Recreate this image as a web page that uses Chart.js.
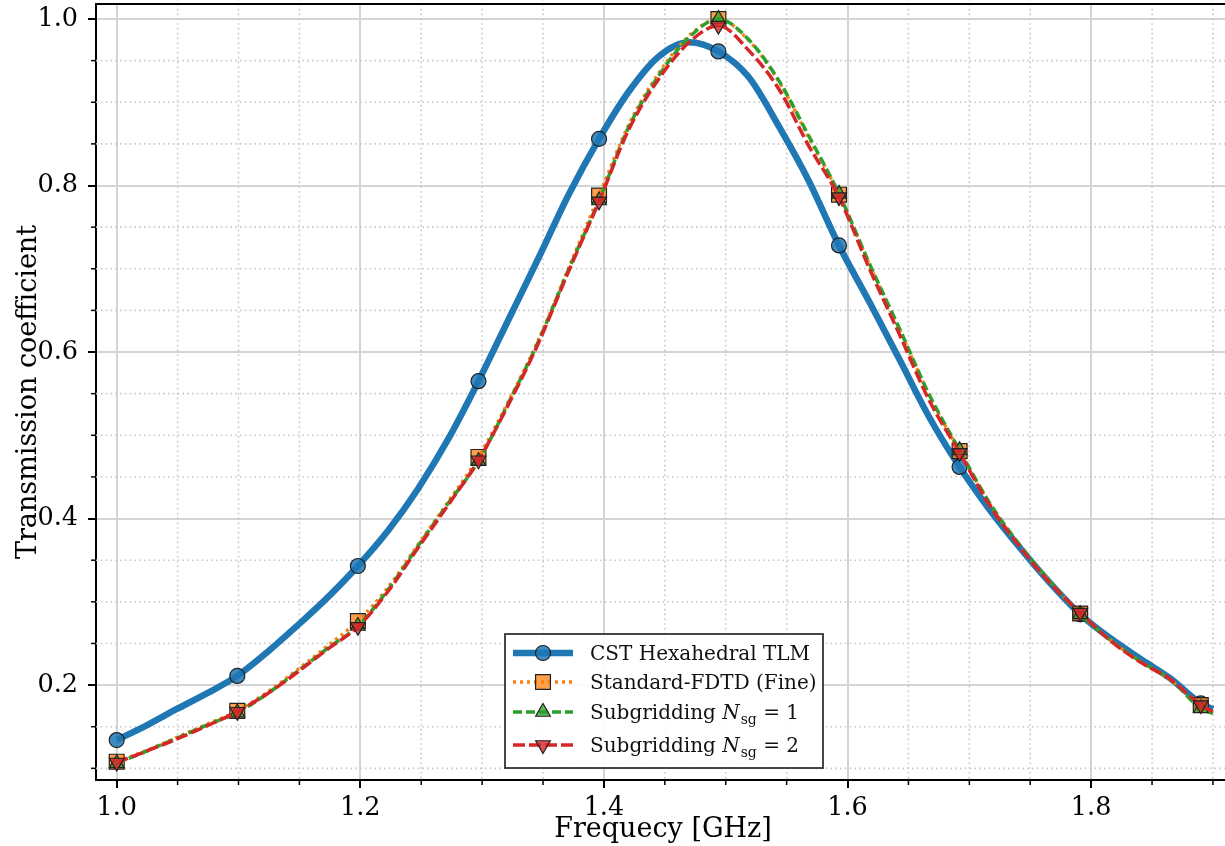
<!DOCTYPE html>
<html>
<head>
<meta charset="utf-8">
<title>Transmission coefficient</title>
<script src="https://cdn.jsdelivr.net/npm/chart.js@4.4.1/dist/chart.umd.min.js"></script>
<style>
  html, body { margin: 0; padding: 0; background: #fff; overflow: hidden; }
  canvas { display: block; }
</style>
</head>
<body>
<canvas id="grafica" width="1230" height="846"></canvas>
<script>
// frecuencias en GHz
const freq = [1.000, 1.025, 1.049, 1.074, 1.099, 1.124, 1.148, 1.173, 1.198, 1.223,
              1.247, 1.272, 1.297, 1.322, 1.346, 1.371, 1.396, 1.420, 1.445, 1.470,
              1.494, 1.519, 1.544, 1.568, 1.593, 1.618, 1.643, 1.667, 1.692, 1.717,
              1.742, 1.766, 1.791, 1.816, 1.840, 1.865, 1.890, 1.900];

const cst = [0.134, 0.152, 0.171, 0.190, 0.211, 0.240, 0.271, 0.305, 0.343, 0.386,
             0.435, 0.495, 0.565, 0.640, 0.712, 0.789, 0.856, 0.912, 0.955, 0.972,
             0.961, 0.930, 0.870, 0.806, 0.728, 0.660, 0.590, 0.522, 0.462, 0.410,
             0.364, 0.323, 0.285, 0.256, 0.232, 0.208, 0.178, 0.171];

const fdtdFine = [0.108, 0.122, 0.137, 0.153, 0.169, 0.192, 0.218, 0.247, 0.277, 0.318,
                  0.368, 0.420, 0.474, 0.542, 0.614, 0.701, 0.788, 0.872, 0.935, 0.980,
                  1.000, 0.974, 0.924, 0.858, 0.789, 0.705, 0.626, 0.548, 0.481, 0.417,
                  0.366, 0.324, 0.286, 0.254, 0.228, 0.206, 0.176, 0.167];

const subgrid1 = [0.106, 0.121, 0.136, 0.152, 0.167, 0.190, 0.216, 0.244, 0.271, 0.315,
                  0.366, 0.418, 0.469, 0.540, 0.612, 0.699, 0.782, 0.869, 0.932, 0.978,
                  1.000, 0.975, 0.925, 0.860, 0.790, 0.706, 0.627, 0.549, 0.482, 0.418,
                  0.367, 0.325, 0.285, 0.254, 0.229, 0.207, 0.172, 0.166];

const subgrid2 = [0.107, 0.121, 0.135, 0.151, 0.168, 0.190, 0.215, 0.243, 0.270, 0.313,
                  0.364, 0.416, 0.470, 0.538, 0.610, 0.697, 0.781, 0.866, 0.928, 0.972,
                  0.992, 0.962, 0.915, 0.848, 0.786, 0.700, 0.620, 0.542, 0.479, 0.415,
                  0.365, 0.323, 0.287, 0.253, 0.228, 0.207, 0.176, 0.168];

const seriesNames = ['CST Hexahedral TLM', 'Standard-FDTD (Fine)', 'Subgridding N_sg = 1', 'Subgridding N_sg = 2'];

const xMajor = [1.0, 1.2, 1.4, 1.6, 1.8];
const xMinor = [1.05, 1.1, 1.15, 1.25, 1.3, 1.35, 1.45, 1.5, 1.55, 1.65, 1.7, 1.75, 1.85, 1.9];
const yMajor = [0.2, 0.4, 0.6, 0.8, 1.0];
const yMinor = [0.1, 0.15, 0.25, 0.3, 0.35, 0.45, 0.5, 0.55, 0.65, 0.7, 0.75, 0.85, 0.9, 0.95];

const serif = '"DejaVu Serif", "Liberation Serif", serif';
const fuenteTicks = { family: serif, size: 25.5 };
const fuenteTitulo = { family: serif, size: 27 };

// un marcador cada 4 muestras (como markevery)
function marcador(r) {
  return ctx => (ctx.dataIndex % 4 === 0 && ctx.dataIndex < 37) ? r : 0;
}

function aPuntos(serie) {
  return freq.map((f, i) => ({ x: f, y: serie[i] }));
}

const estilos = [
  { color: '#1f77b4', relleno: 'rgba(31,119,180,0.85)', ancho: 6.5, dash: [], forma: 'circle', r: 7.5, rot: 0 },
  { color: '#ff7f0e', relleno: 'rgba(255,127,14,0.75)', ancho: 3.3, dash: [3, 4], forma: 'rect', r: 10.5, rot: 0 },
  { color: '#2ca02c', relleno: 'rgba(44,160,44,0.75)', ancho: 3.5, dash: [9, 4], forma: 'triangle', r: 8.5, rot: 0 },
  { color: '#d62728', relleno: 'rgba(214,39,40,0.8)', ancho: 3.5, dash: [12, 4], forma: 'triangle', r: 8.5, rot: 180 }
];

const series = [cst, fdtdFine, subgrid1, subgrid2];

// rejilla menor punteada y marcas menores
const rejillaMenor = {
  id: 'rejillaMenor',
  beforeDatasetsDraw(chart) {
    const { ctx, chartArea: a, scales: { x, y } } = chart;
    ctx.save();
    ctx.strokeStyle = '#c9c9c9';
    ctx.lineWidth = 1.6;
    ctx.setLineDash([1.6, 3.2]);
    xMinor.forEach(v => {
      const px = x.getPixelForValue(v);
      ctx.beginPath(); ctx.moveTo(px, a.top); ctx.lineTo(px, a.bottom); ctx.stroke();
    });
    yMinor.forEach(v => {
      const py = y.getPixelForValue(v);
      ctx.beginPath(); ctx.moveTo(a.left, py); ctx.lineTo(a.right, py); ctx.stroke();
    });
    ctx.setLineDash([]);
    ctx.strokeStyle = '#000';
    ctx.lineWidth = 1.5;
    xMinor.forEach(v => {
      const px = x.getPixelForValue(v);
      ctx.beginPath(); ctx.moveTo(px, a.bottom); ctx.lineTo(px, a.bottom + 5); ctx.stroke();
    });
    yMinor.forEach(v => {
      const py = y.getPixelForValue(v);
      ctx.beginPath(); ctx.moveTo(a.left - 5, py); ctx.lineTo(a.left, py); ctx.stroke();
    });
    ctx.restore();
  }
};

function dibujarMarcador(ctx, e, cx, cy) {
  ctx.save();
  ctx.fillStyle = e.relleno;
  ctx.strokeStyle = '#222';
  ctx.lineWidth = 1.2;
  ctx.beginPath();
  if (e.forma === 'circle') {
    ctx.arc(cx, cy, e.r, 0, Math.PI * 2);
  } else if (e.forma === 'rect') {
    const s = e.r * Math.SQRT1_2;
    ctx.rect(cx - s, cy - s, 2 * s, 2 * s);
  } else {
    const sgn = e.rot ? -1 : 1;
    for (let k = 0; k < 3; k++) {
      const ang = k * 2 * Math.PI / 3;
      const px = cx + Math.sin(ang) * e.r;
      const py = cy - sgn * Math.cos(ang) * e.r;
      if (k === 0) ctx.moveTo(px, py); else ctx.lineTo(px, py);
    }
    ctx.closePath();
  }
  ctx.fill();
  ctx.stroke();
  ctx.restore();
}

function escribir(ctx, txt, x, y) {
  const partes = txt.split('N_sg');
  ctx.font = '20px ' + serif;
  ctx.fillText(partes[0], x, y);
  x += ctx.measureText(partes[0]).width;
  if (partes.length > 1) {
    ctx.font = 'italic 20px ' + serif;
    ctx.fillText('N', x, y);
    x += ctx.measureText('N').width + 1;
    ctx.font = '14px ' + serif;
    ctx.fillText('sg', x, y + 5);
    x += ctx.measureText('sg').width;
    ctx.font = '20px ' + serif;
    ctx.fillText(partes[1], x, y);
  }
}

// marco superior y leyenda
const marcoYLeyenda = {
  id: 'marcoYLeyenda',
  afterDraw(chart) {
    const { ctx, chartArea: a } = chart;
    ctx.save();
    ctx.strokeStyle = '#000';
    ctx.lineWidth = 2;
    ctx.beginPath(); ctx.moveTo(a.left, a.top); ctx.lineTo(a.right, a.top); ctx.stroke();

    const bx = a.left + 409, by = a.top + 630, bw = 318, bh = 134;
    ctx.fillStyle = 'rgba(255,255,255,0.9)';
    ctx.fillRect(bx, by, bw, bh);
    ctx.strokeStyle = '#333';
    ctx.lineWidth = 1.8;
    ctx.strokeRect(bx, by, bw, bh);

    const baselines = [26, 55, 85, 118];
    estilos.forEach((e, i) => {
      const yb = by + baselines[i];
      const yl = yb - 7;
      ctx.save();
      ctx.strokeStyle = e.color;
      ctx.lineWidth = e.ancho;
      ctx.setLineDash(e.dash);
      ctx.beginPath(); ctx.moveTo(bx + 8, yl); ctx.lineTo(bx + 68, yl); ctx.stroke();
      ctx.restore();
      dibujarMarcador(ctx, e, bx + 38, yl);
      ctx.fillStyle = '#111';
      ctx.textBaseline = 'alphabetic';
      ctx.textAlign = 'left';
      escribir(ctx, seriesNames[i], bx + 85, yb);
    });
    ctx.restore();
  }
};

const datasets = series.map((s, i) => {
  const e = estilos[i];
  return {
    label: seriesNames[i],
    data: aPuntos(s),
    borderColor: e.color,
    borderWidth: e.ancho,
    borderDash: e.dash,
    fill: false,
    pointStyle: e.forma,
    pointRotation: e.rot,
    pointRadius: marcador(e.r),
    pointHoverRadius: 0,
    pointBackgroundColor: e.relleno,
    pointBorderColor: '#222',
    pointBorderWidth: 1.2,
    order: 4 - i
  };
});

new Chart(document.getElementById('grafica'), {
  type: 'line',
  data: { datasets: datasets },
  options: {
    responsive: false,
    animation: false,
    events: [],
    layout: { autoPadding: false, padding: { top: 4, right: 0, bottom: 0, left: 0 } },
    elements: { line: { cubicInterpolationMode: 'monotone' } },
    plugins: { legend: { display: false }, tooltip: { enabled: false } },
    scales: {
      x: {
        type: 'linear',
        min: 0.983,
        max: 1.914,
        afterBuildTicks: s => { s.ticks = xMajor.map(v => ({ value: v })); },
        afterFit: s => { s.height = 66; s.paddingLeft = 0; s.paddingRight = 0; },
        ticks: { font: fuenteTicks, color: '#000', padding: 5, maxRotation: 0, autoSkip: false,
                 callback: v => v.toFixed(1) },
        grid: { color: '#d4d4d4', lineWidth: 2, tickColor: '#000', tickLength: 8, tickWidth: 2 },
        border: { color: '#000', width: 2 },
        title: { display: true, text: 'Frequecy [GHz]', font: fuenteTitulo, color: '#000', padding: 0 }
      },
      y: {
        type: 'linear',
        min: 0.086,
        max: 1.018,
        afterBuildTicks: s => { s.ticks = yMajor.map(v => ({ value: v })); },
        afterFit: s => { s.width = 96; s.paddingTop = 0; s.paddingBottom = 0; },
        ticks: { font: fuenteTicks, color: '#000', padding: 10, callback: v => v.toFixed(1) },
        grid: { color: '#d4d4d4', lineWidth: 2, tickColor: '#000', tickLength: 8, tickWidth: 2 },
        border: { color: '#000', width: 2 },
        title: { display: true, text: 'Transmission coefficient', font: fuenteTitulo, color: '#000', padding: 13 }
      }
    }
  },
  plugins: [rejillaMenor, marcoYLeyenda]
});
</script>
</body>
</html>
